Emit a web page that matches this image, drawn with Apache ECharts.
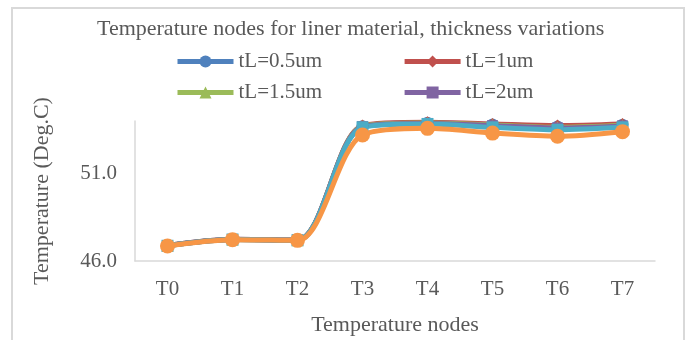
<!DOCTYPE html>
<html>
<head>
<meta charset="utf-8">
<script src="https://cdn.jsdelivr.net/npm/echarts@6/dist/echarts.min.js"></script>
<style>html,body{margin:0;padding:0;background:#fff}#c{width:686px;height:340px}</style>
</head>
<body>
<div id="c"></div>
<script>
const categories = ['T0','T1','T2','T3','T4','T5','T6','T7'];
const seriesNames = ['tL=0.5um','tL=1um','tL=1.5um','tL=2um','tL=2.5um','tL=3um'];
const tL05 = [46.88, 47.24, 47.20, 53.70, 53.90, 53.80, 53.68, 53.78];
const tL1  = [46.88, 47.24, 47.20, 53.74, 53.93, 53.83, 53.74, 53.83];
const tL15 = [46.87, 47.23, 47.19, 53.70, 53.88, 53.77, 53.64, 53.76];
const tL2  = [46.87, 47.23, 47.19, 53.68, 53.86, 53.73, 53.60, 53.72];
const tL25 = [46.87, 47.23, 47.19, 53.64, 53.83, 53.64, 53.50, 53.64];
const tL3  = [46.86, 47.22, 47.18, 53.20, 53.58, 53.31, 53.13, 53.39];
const yMin = 46, yMax = 54, yInterval = 5;

const colors = ['#4F81BD','#C0504D','#9BBB59','#8064A2','#4BACC6','#F79646'];
const symbols = ['circle','diamond','triangle','rect','rect','circle'];
const symSizes = [12,12,12,11,12,15];
const dataSets = [tL05, tL1, tL15, tL2, tL25, tL3];
const font = 'Liberation Serif, Times New Roman, serif';
const txt = '#595959';

const legendBase = {left: 170, itemWidth: 56, itemHeight: 15, itemGap: 80,
  lineStyle: {width: 5}, textStyle: {fontFamily: font, fontSize: 21, color: txt}};

const chart = echarts.init(document.getElementById('c'), null, {renderer:'canvas'});
chart.setOption({
  animation: false,
  backgroundColor: '#fff',
  color: colors,
  graphic: [{
    type: 'rect', shape: {x: 12, y: 8, width: 672, height: 345},
    style: {fill: 'none', stroke: '#d9d9d9', lineWidth: 2}, silent: true
  }],
  title: {
    text: 'Temperature nodes for liner material, thickness variations',
    left: 92, top: 13,
    textStyle: {fontFamily: font, fontSize: 22, fontWeight: 'normal', color: txt}
  },
  legend: [
    Object.assign({data: [seriesNames[0], seriesNames[1]], top: 46}, legendBase),
    Object.assign({data: [seriesNames[2], seriesNames[3]], top: 77}, legendBase)
  ],
  grid: {left: 135, right: 31, top: 121, bottom: 79, containLabel: false},
  xAxis: {
    type: 'category', data: categories, boundaryGap: true,
    name: 'Temperature nodes', nameLocation: 'middle', nameGap: 53,
    nameTextStyle: {fontFamily: font, fontSize: 22, color: txt},
    axisLine: {lineStyle: {color: '#d9d9d9', width: 1.5}},
    axisTick: {show: false},
    axisLabel: {fontFamily: font, fontSize: 21, color: txt, margin: 18}
  },
  yAxis: {
    type: 'value', min: yMin, max: yMax, interval: yInterval,
    name: 'Temperature (Deg.C)', nameLocation: 'middle', nameGap: 82,
    nameTextStyle: {fontFamily: font, fontSize: 22, color: txt},
    axisLine: {show: true, lineStyle: {color: '#d9d9d9', width: 1.5}},
    axisTick: {show: false},
    splitLine: {show: false},
    axisLabel: {fontFamily: font, fontSize: 21, color: txt, margin: 18, showMaxLabel: false,
      formatter: v => (v === yMax ? '' : v.toFixed(1))}
  },
  series: seriesNames.map((n, i) => ({
    name: n, type: 'line', data: dataSets[i], smooth: 0.3, clip: false,
    symbol: symbols[i], symbolSize: symSizes[i], showSymbol: true,
    lineStyle: {width: 5, color: colors[i]},
    itemStyle: {color: colors[i]}
  }))
});
</script>
</body>
</html>
